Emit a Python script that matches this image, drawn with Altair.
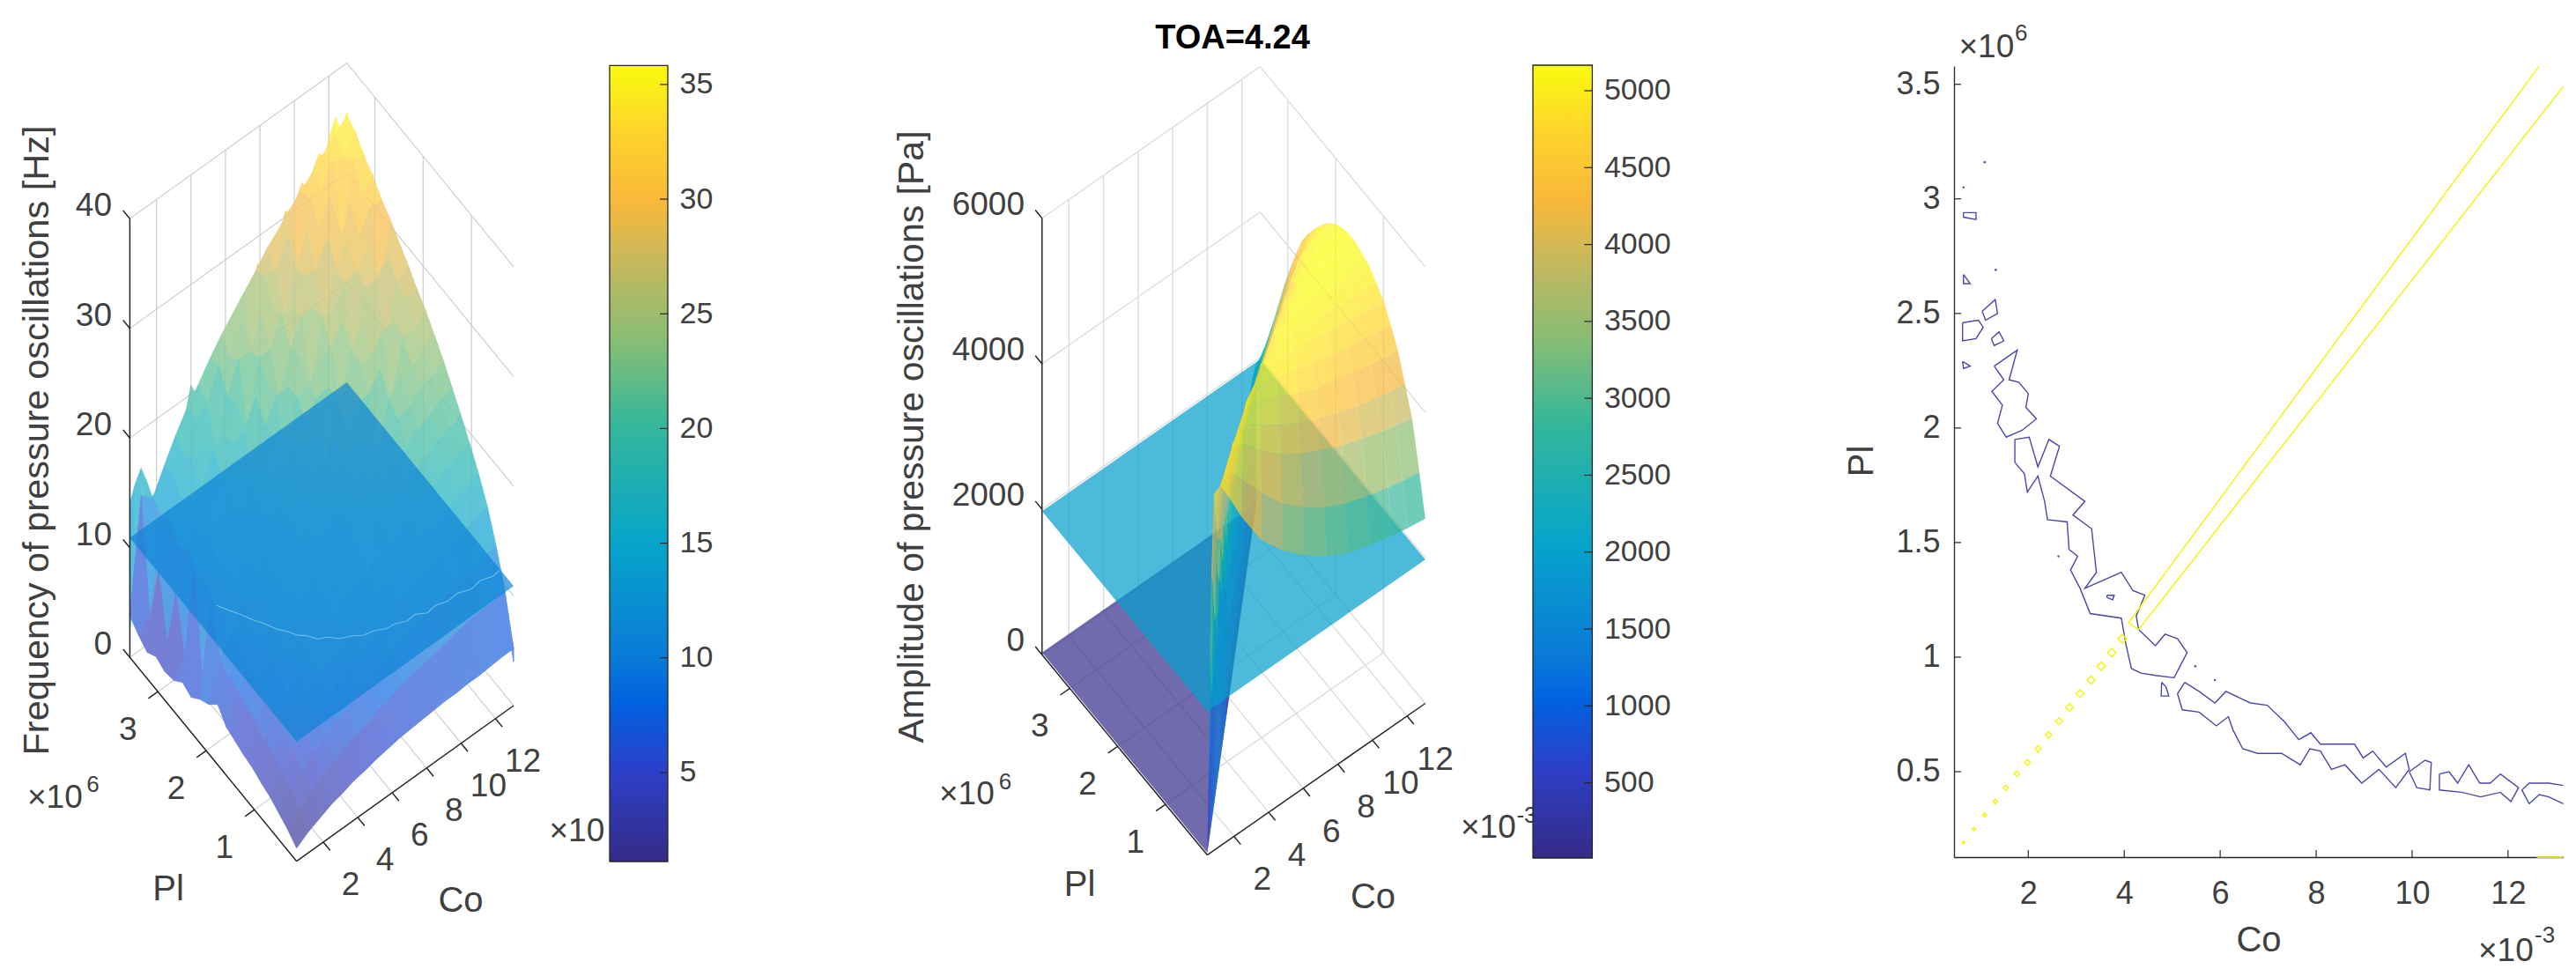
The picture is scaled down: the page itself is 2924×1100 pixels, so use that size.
import altair as alt
import numpy as np
import pandas as pd

FONT = "Liberation Sans"
INK = "#404040"
LINE = "#262626"
GRID = "#dddddd"

# ---------- shared axis ranges ----------
CO_MIN, CO_MAX = 0.45, 13.05
PL_MIN, PL_MAX = 0.127, 3.58
co_ticks = [2, 4, 6, 8, 10, 12]
pl_ticks = [1, 2, 3]

# ---------- parula-like colormap ----------
map_t = [0, 0.06, 0.112, 0.2, 0.25, 0.4, 0.55, 0.65, 0.75, 0.83, 0.92, 1]
map_c = ["#352a87", "#3036a8", "#2d3fc8", "#0062e0", "#0a78d8", "#06a5ca",
         "#35b79a", "#85bd75", "#c4b85e", "#f9b83a", "#fdd52a", "#f9fb0e"]

# ---------- left surface: frequency [Hz] ----------
freq_range = [1.12, 35.83]
freq_ticks = [5, 10, 15, 20, 25, 30, 35]
freq_plane = 10.9
freq_co = [0.45, 1.11, 1.78, 2.44, 3.1, 3.77, 4.43, 5.1, 5.76, 6.42, 7.09, 7.75, 8.41, 9.08, 9.74, 10.4, 11.06, 11.73, 12.39, 13.05]
freq_pl = [0.127, 0.31, 0.49, 0.67, 0.85, 1.04, 1.22, 1.40, 1.58, 1.76, 1.95, 2.13, 2.31, 2.49, 2.67, 2.86, 3.04, 3.22, 3.40, 3.58]
freq_z = [
 [1.2,1.9,2.4,2.9,3.2,3.6,3.8,4.1,4.3,4.5,4.6,4.7,4.8,4.9,4.9,5.0,5.0,5.1,5.2,5.2],
 [1.9,3.0,3.9,4.5,5.1,5.5,6.1,6.4,6.9,7.2,7.6,7.9,8.1,8.4,8.6,8.9,9.1,9.2,9.3,9.5],
 [2.4,3.9,4.8,5.8,6.3,7.1,7.6,8.3,8.6,9.3,9.6,10.1,10.4,11,11.1,11.6,12,12.1,12.5,12.6],
 [2.9,4.4,5.6,6.8,7.4,8.3,8.9,9.8,10.2,10.8,11.2,12,12.3,12.9,13.2,13.6,14.2,14.4,15,15.2],
 [3.2,5.1,6.3,7.5,8.6,9.2,10.2,10.8,11.6,12.1,12.9,13.2,14,14.3,15.1,15.4,16,16.4,16.8,17.2],
 [3.6,5.5,7.2,8.2,9.4,10.2,11.2,12,12.6,13.5,14,14.8,15.3,16,16.4,17.2,17.5,18.2,18.6,19],
 [3.8,6.1,7.5,9,10,11.3,12,13.1,13.6,14.7,15.1,16,16.6,17.4,17.7,18.6,19,19.8,20.1,20.6],
 [4.1,6.5,8.3,9.4,10.9,11.8,13,13.7,14.9,12,16.5,17,18,18.4,19.3,19.7,20.6,21,21.8,22.1],
 [4.4,7,8.5,10.4,11.3,12.9,13.6,14.9,15.5,16.7,17.2,18.4,18.8,19.9,20.2,21.3,21.6,22.6,22.9,23.6],
 [5.5,7.2,9.4,10.5,12.4,13.1,14.7,15.3,16.8,17.2,18.6,19,20.2,20.5,17.8,22,23.2,23.4,24.6,24.9],
 [4.5,8,9.4,11.6,12.5,14.3,11,16.6,17.1,18.6,19,20.4,20.7,22.2,22.3,23.8,19.8,25.3,25.2,26.2],
 [4,12,10.4,11.5,13.6,14.4,16.2,16.9,18.6,18.9,20.5,16.8,22.3,22.5,24.1,24.1,25.6,25.7,27,27.2],
 [3.2,4,10.2,12.6,13.5,11.8,16.2,18,18.6,20.3,20.7,22.3,22.5,20,24.4,25.8,26.2,23.4,27.5,28.4],
 [3.6,13,11.4,12.4,14.8,15.6,17.5,18.2,20,16.4,22.2,22.4,24.1,24.3,26,22,27.7,27.6,29,29.4],
 [2.8,4,11,13.6,14.6,17,17.4,15.6,20,22,22.1,24,20,26.1,26.1,27.8,28.1,29.5,25.5,30.5],
 [2.6,9,12.2,13.2,12,16.6,19,19.4,21.6,21.9,20,23.9,26,26,24,27.9,29.9,29.5,31.5,31.4],
 [3,3.5,11.6,14.6,15.5,18.1,18.6,21,17.4,23.6,23.5,25.9,25.8,28,27.8,30,25.8,31.6,31.4,32.6],
 [2.4,9,12.8,14,17,17.6,16.4,20.5,23.1,23,25.6,25.4,24,27.6,30.1,29.6,32,27.5,33.8,33.4],
 [3,4,12.4,15.5,16.4,19.2,19.6,22.4,22.3,25,20.8,27.5,27.3,29.7,25.8,31.6,31.4,33.5,33.2,34.6],
 [3.8,14,13,15.2,17.2,19,20.4,22,23.4,24.6,25.8,27,28.3,29.3,30.4,31.3,32.3,33.3,34.2,35.2],
]
# jagged outline of the surface along its two back edges
edge_left_co = [0.45,0.77,1.10,1.42,1.74,2.07,2.39,2.71,3.03,3.36,3.68,4.00,4.33,4.65,4.97,5.30,5.62,5.94,6.26,6.59,6.91,7.23,7.56,7.88,8.20,8.53,8.85,9.17,9.49,9.82,10.14,10.46,10.79,11.11,11.43,11.76,12.08,12.40,12.72,13.05]
edge_left_z = [14,15.5,16.5,15,13.2,13.5,14.5,15.5,16.8,17.5,18.5,20.8,19.5,20.5,21.5,22,21.5,23.5,24,24.5,25.5,25,26,27.5,26.5,28,28.5,29,30.5,30,31,32,31,32.5,33.5,33,34.5,35.8,34,35.5]
edge_right_pl = [3.58,3.49,3.40,3.31,3.23,3.14,3.05,2.96,2.87,2.78,2.70,2.61,2.52,2.43,2.34,2.25,2.17,2.08,1.99,1.90,1.81,1.72,1.64,1.55,1.46,1.37,1.28,1.19,1.11,1.02,0.93,0.84,0.75,0.66,0.57,0.48,0.39,0.30,0.22,0.127]
edge_right_z = [35.5,34,34.8,33,33.6,32,32.8,31,31.5,30.5,29.8,30,28.7,28,28.5,27.2,26.8,26,25.8,25,25,24,23.6,23,22.5,21.5,21,20,19.2,18.6,17.5,16.2,15,13.6,11.6,10.6,9,7.8,6.5,5.2]
# where the surface crosses the plane
cross_co = [1.6,1.9,2.2,2.5,2.8,3.1,3.4,3.7,4.0,4.3,4.7,5.1,5.6,6.1,6.6,7.1,7.6,8.1,8.6,9.1,9.6,10.2,10.8,11.4,12.0,12.6,13.0]
cross_pl = [2.2,2.05,1.92,1.76,1.64,1.48,1.38,1.25,1.18,1.06,1.01,0.90,0.84,0.75,0.72,0.65,0.63,0.57,0.58,0.50,0.52,0.47,0.48,0.42,0.44,0.39,0.40]

# ---------- middle surface: amplitude [Pa] ----------
amp_range = [11, 5166]
amp_ticks = [500, 1000, 1500, 2000, 2500, 3000, 3500, 4000, 4500, 5000]
amp_plane = 1975
amp_ratio = 3.58  # Co (x10^-3) per Pl (x10^6) along the sharp front
amp_floor = 30
amp_pl = [0.127, 0.25, 0.4, 0.55, 0.7, 0.85, 1.0, 1.15, 1.3, 1.45, 1.6, 1.8, 2.0, 2.2, 2.4, 2.6, 2.8, 3.0, 3.2, 3.4, 3.58]
amp_f = [0, .004, .008, .012, .018, .03, .06, .1, .16, .25, .35, .45, .55, .65, .75, .85, .92, 1]
amp_z = [
 [20,800,1800,2800,3800,4900,4950,4700,4300,3800,3450,3180,2960,2800,2700,2620,2575,2540],
 [20,1300,2700,2000,3500,4400,4850,4880,4650,4300,3950,3700,3500,3350,3250,3170,3120,3080],
 [20,2400,1700,3300,2800,3900,4700,5000,4950,4700,4450,4270,4130,4000,3900,3810,3760,3700],
 [20,1900,3200,2600,3500,3700,4450,4880,5020,4870,4680,4530,4400,4300,4210,4140,4090,4050],
 [20,2900,2100,3400,2900,3500,4200,4700,5050,5000,4900,4770,4650,4600,4530,4470,4430,4400],
 [20,2200,3300,2700,3400,3400,4000,4500,4900,5030,5000,4920,4850,4780,4730,4690,4660,4630],
 [20,3000,2300,3300,2800,3300,3800,4300,4750,5050,5070,5030,4980,4950,4920,4880,4860,4840],
 [20,2000,3100,2600,3200,3200,3650,4100,4520,4900,5070,5090,5060,5030,5010,4990,4980,4970],
 [20,2600,1900,3000,2600,3100,3500,3900,4300,4750,5050,5130,5150,5130,5110,5100,5090,5080],
 [20,1700,2700,2200,2900,3000,3350,3750,4120,4550,4880,5080,5160,5170,5160,5150,5140,5130],
 [20,500,1200,1900,2400,2900,3200,3600,3950,4350,4700,4960,5110,5200,5200,5200,5190,5180],
 [20,500,1130,1770,2270,2770,3070,3400,3700,4070,4420,4720,4970,5130,5190,5200,5190,5170],
 [20,480,1060,1670,2170,2630,2900,3200,3480,3820,4160,4480,4730,4950,5090,5130,5110,5100],
 [20,450,1000,1600,2100,2500,2700,2950,3200,3500,3800,4100,4400,4650,4850,4960,4960,4950],
 [20,420,930,1530,2030,2430,2600,2780,2950,3200,3480,3730,3980,4230,4440,4600,4680,4730],
 [20,400,900,1470,1970,2370,2500,2620,2750,2970,3200,3460,3700,3940,4160,4330,4430,4470],
 [20,400,900,1400,1900,2300,2400,2450,2550,2700,2900,3070,3270,3450,3650,3850,3980,4100],
 [20,350,800,1300,1800,2250,2300,2350,2400,2500,2600,2730,2880,3000,3200,3400,3500,3600],
 [20,300,700,1200,1700,2200,2250,2250,2300,2350,2400,2500,2600,2650,2750,2870,2930,3000],
 [20,300,600,1000,1500,2000,2100,2150,2150,2200,2200,2230,2260,2300,2330,2370,2390,2400],
 [20,200,500,800,1100,1400,1500,1550,1600,1650,1700,1710,1730,1750,1770,1790,1795,1800],
]

# ---------- right panel: contours ----------
contours = [
 ([1.29,1.77,1.60,1.80,2.00,1.95,2.17,1.87,1.54,1.36,1.46,1.24,1.49,1.29],
  [2.27,2.34,2.21,2.20,2.15,2.09,2.04,1.99,1.96,2.02,2.10,2.16,2.21,2.27]),
 ([1.72,2.02,2.20,2.43,2.65,2.46,3.18,2.93,3.32,3.42,3.18,3.94,4.18,4.43,4.25,4.30,4.65,4.85,5.11,5.31,5.04,4.65,4.35,4.15,4.04,3.94,3.29,3.08,2.88,3.03,2.85,2.81,2.40,2.34,2.20,1.98,1.92,1.72,1.72],
  [1.95,1.96,1.83,1.95,1.92,1.79,1.68,1.62,1.56,1.37,1.30,1.37,1.29,1.27,1.18,1.12,1.05,1.10,1.08,1.02,0.91,0.92,0.93,0.95,1.05,1.17,1.19,1.30,1.38,1.44,1.47,1.59,1.60,1.68,1.79,1.72,1.80,1.85,1.95]),
 ([5.26,5.56,5.89,6.12,6.63,6.98,7.33,7.64,7.89,8.09,8.80,8.98,9.18,9.46,9.86,9.94,9.66,9.31,8.95,8.60,8.32,8.09,7.87,7.67,7.28,6.78,6.47,6.27,6.17,5.92,5.56,5.21,5.11,5.26],
  [0.89,0.85,0.80,0.85,0.80,0.79,0.72,0.64,0.67,0.62,0.62,0.56,0.59,0.52,0.58,0.51,0.43,0.51,0.45,0.53,0.51,0.59,0.60,0.53,0.58,0.58,0.60,0.68,0.74,0.70,0.76,0.77,0.84,0.89]),
 ([9.94,10.27,10.40,10.37,10.10,9.94], [0.50,0.55,0.54,0.42,0.43,0.50]),
 ([10.57,10.77,10.95,11.18,11.41,11.63,11.84,12.22,12.06,11.84,11.43,11.03,10.57,10.57],
  [0.49,0.50,0.45,0.53,0.45,0.45,0.49,0.43,0.37,0.41,0.39,0.41,0.42,0.49]),
 ([13.15,12.85,12.44,12.29,12.44,12.65,12.85,13.15], [0.44,0.45,0.45,0.42,0.36,0.40,0.39,0.36]),
 ([0.63,0.96,1.06,0.91,0.63,0.63], [2.46,2.47,2.44,2.39,2.38,2.46]),
 ([1.04,1.31,1.36,1.11,1.04], [2.51,2.56,2.50,2.47,2.51]),
 ([1.23,1.39,1.49,1.29,1.23], [2.39,2.42,2.38,2.36,2.39]),
 ([0.65,0.91,0.91,0.65,0.65], [2.94,2.94,2.91,2.92,2.94]),
 ([0.65,0.79,0.65,0.65], [2.67,2.63,2.63,2.67]),
 ([0.63,0.79,0.65,0.63], [2.29,2.27,2.26,2.29]),
 ([3.64,3.79,3.76,3.64,3.64], [1.27,1.27,1.25,1.26,1.27]),
 ([4.78,4.87,4.93,4.77,4.78], [0.89,0.87,0.83,0.83,0.89]),
]
dots_co = [1.09, 2.63, 5.48, 5.89, 1.32, 0.65]
dots_pl = [3.16, 1.44, 0.96, 0.90, 2.69, 3.05]
front_co = [12.65, 4.09, 4.30, 13.15]
front_pl = [3.58, 1.15, 1.12, 3.49]
rings_co = [3.96,3.74,3.52,3.31,3.08,2.86,2.64,2.42,2.20,1.98,1.76,1.53,1.31,1.09,0.87,0.65]
rings_pl = [1.08,1.02,0.96,0.90,0.84,0.78,0.72,0.66,0.60,0.54,0.49,0.43,0.37,0.31,0.25,0.19]
base_co = [12.6, 13.15]
base_pl = [0.127, 0.127]


# ---------- helpers ----------
def hex2rgb(h):
    return np.array([int(h[i:i + 2], 16) for i in (1, 3, 5)], float)


def over_white(h, a):
    c = a * hex2rgb(h) + (1 - a) * 255
    return "#%02x%02x%02x" % tuple(int(round(v)) for v in c)


def map_at(t):
    cols = np.array([hex2rgb(c) for c in map_c])
    c = [np.interp(t, map_t, cols[:, k]) for k in range(3)]
    return "#%02x%02x%02x" % tuple(int(round(v)) for v in c)


def projector(B, R, L, zs, origin):
    def f(co, pl, z):
        a = (co - CO_MIN) / (CO_MAX - CO_MIN)
        b = (pl - PL_MIN) / (PL_MAX - PL_MIN)
        return (B[0] + a * (R[0] - B[0]) + b * (L[0] - B[0]) - origin[0],
                B[1] + a * (R[1] - B[1]) + b * (L[1] - B[1]) - z * zs - origin[1])
    return f


def feature(proj, pts, v):
    ring = [list(map(float, proj(*p))) for p in pts]
    ring.append(ring[0])
    return {"type": "Feature", "properties": {"v": float(v)},
            "geometry": {"type": "Polygon", "coordinates": [ring]}}


def xy_scales(w, h):
    return alt.Scale(domain=[0, w], range=[0, w]), alt.Scale(domain=[0, h], range=[0, h])


PROJ = dict(type="identity", scale=1, translate=[0, 0])


def rules(rows, sx, sy, color, width, opacity=1.0):
    df = pd.DataFrame(rows, columns=["x", "y", "x2", "y2"])
    return alt.Chart(df).mark_rule(color=color, strokeWidth=width, opacity=opacity).encode(
        x=alt.X("x:Q", scale=sx, axis=None), y=alt.Y("y:Q", scale=sy, axis=None),
        x2="x2:Q", y2="y2:Q")


def texts(rows, sx, sy, size, align="center", angle=0, bold=False, color=INK):
    df = pd.DataFrame(rows, columns=["x", "y", "t"])
    return alt.Chart(df).mark_text(font=FONT, fontSize=size, align=align, baseline="middle",
                                   angle=angle, color=color,
                                   fontWeight="bold" if bold else "normal").encode(
        x=alt.X("x:Q", scale=sx, axis=None), y=alt.Y("y:Q", scale=sy, axis=None), text="t:N")


def box_lines(proj, z_ticks, z_top):
    g = []
    for c in co_ticks:
        g.append(proj(c, PL_MAX, 0) + proj(c, PL_MAX, z_top))
        g.append(proj(c, PL_MIN, 0) + proj(c, PL_MAX, 0))
    for p in pl_ticks:
        g.append(proj(CO_MAX, p, 0) + proj(CO_MAX, p, z_top))
        g.append(proj(CO_MIN, p, 0) + proj(CO_MAX, p, 0))
    for z in z_ticks:
        g.append(proj(CO_MIN, PL_MAX, z) + proj(CO_MAX, PL_MAX, z))
        g.append(proj(CO_MAX, PL_MAX, z) + proj(CO_MAX, PL_MIN, z))
    return g


def axis_lines(proj, z_ticks, z_top):
    a = [proj(CO_MIN, PL_MAX, 0) + proj(CO_MIN, PL_MAX, z_top),
         proj(CO_MIN, PL_MAX, 0) + proj(CO_MIN, PL_MIN, 0),
         proj(CO_MIN, PL_MIN, 0) + proj(CO_MAX, PL_MIN, 0)]
    for c in co_ticks:
        a.append(proj(c, PL_MIN, 0) + proj(c, PL_MIN - 0.14, 0))
    for p in pl_ticks:
        a.append(proj(CO_MIN, p, 0) + proj(CO_MIN - 0.55, p, 0))
    for z in z_ticks:
        a.append(proj(CO_MIN, PL_MAX, z) + proj(CO_MIN, PL_MAX + 0.14, z))
    return a


def colorbar(dom, ticks, top, bottom, w):
    stops = [alt.GradientStop(color=c, offset=t) for t, c in zip(map_t, map_c)]
    grad = alt.LinearGradient(gradient="linear", stops=stops, x1=0, x2=0, y1=1, y2=0)
    sc = alt.Scale(domain=dom, range=[bottom, top], nice=False, zero=False)
    ax = alt.Axis(orient="right", values=ticks, title=None, domain=False, grid=False, tickSize=0,
                  labelFont=FONT, labelFontSize=34, labelColor=INK, labelPadding=13, format="d")
    rect = alt.Chart(pd.DataFrame({"a": [dom[0]], "b": [dom[1]]})).mark_rect(
        fill=grad, stroke=LINE, strokeWidth=1.3).encode(
        x=alt.value(0), x2=alt.value(w), y=alt.Y("a:Q", scale=sc, axis=ax), y2="b:Q")
    tk = alt.Chart(pd.DataFrame({"v": ticks})).mark_rule(color=LINE, strokeWidth=1.2).encode(
        x=alt.value(w - 9), x2=alt.value(w), y=alt.Y("v:Q", scale=sc, axis=ax))
    return alt.layer(rect, tk).properties(width=w, height=bottom)


# ---------- left panel ----------
W1, H1 = 684, 1084
O1 = (8, 8)
p1 = projector((336.7, 974.7), (583, 798), (147.4, 743.3), 12.45, O1)
sx1, sy1 = xy_scales(W1, H1)
fz = freq_z
cells = []
for j in range(len(freq_pl) - 2, -1, -1):
    for i in range(len(freq_co) - 2, -1, -1):
        pts = [(freq_co[i], freq_pl[j], fz[j][i]), (freq_co[i + 1], freq_pl[j], fz[j][i + 1]),
               (freq_co[i + 1], freq_pl[j + 1], fz[j + 1][i + 1]), (freq_co[i], freq_pl[j + 1], fz[j + 1][i])]
        v = (fz[j][i] + fz[j][i + 1] + fz[j + 1][i + 1] + fz[j + 1][i]) / 4
        cells.append((i + j, feature(p1, pts, v)))
cells.sort(key=lambda c: -c[0])
strip = []
row_top = np.array(fz[-1], float)
col_end = np.array([r[-1] for r in fz], float)
for k in range(len(edge_left_co) - 1):
    c0, c1 = edge_left_co[k], edge_left_co[k + 1]
    strip.append(feature(p1, [(c0, PL_MAX, edge_left_z[k]), (c1, PL_MAX, edge_left_z[k + 1]),
                              (c1, PL_MAX, np.interp(c1, freq_co, row_top) - 1.2),
                              (c0, PL_MAX, np.interp(c0, freq_co, row_top) - 1.2)], edge_left_z[k]))
for k in range(len(edge_right_pl) - 1):
    q0, q1 = edge_right_pl[k], edge_right_pl[k + 1]
    strip.append(feature(p1, [(CO_MAX, q0, edge_right_z[k]), (CO_MAX, q1, edge_right_z[k + 1]),
                              (CO_MAX, q1, np.interp(q1, freq_pl, col_end) - 1.2),
                              (CO_MAX, q0, np.interp(q0, freq_pl, col_end) - 1.2)], edge_right_z[k]))
surf1 = strip + [c[1] for c in cells]
dom1 = [freq_range[0] + t * (freq_range[1] - freq_range[0]) for t in map_t]
pale1 = [over_white(c, 0.66) for c in map_c]
sc1 = alt.Scale(domain=dom1, range=pale1)
surf_layer1 = alt.Chart(alt.Data(values=surf1)).mark_geoshape(filled=True, strokeWidth=0.9).encode(
    fill=alt.Fill("properties.v:Q", scale=sc1, legend=None),
    stroke=alt.Stroke("properties.v:Q", scale=sc1, legend=None)).project(**PROJ)
corners = [(CO_MIN, PL_MIN), (CO_MAX, PL_MIN), (CO_MAX, PL_MAX), (CO_MIN, PL_MAX)]
plane1 = alt.Chart(alt.Data(values=[feature(p1, [(c, q, freq_plane) for c, q in corners], freq_plane)])).mark_geoshape(
    fill=map_at((freq_plane - freq_range[0]) / (freq_range[1] - freq_range[0])), fillOpacity=0.67, strokeWidth=0).project(**PROJ)
cx = [p1(c, q, freq_plane) for c, q in zip(cross_co, cross_pl)]
cross_df = pd.DataFrame({"x": [a for a, _ in cx], "y": [b for _, b in cx], "i": range(len(cx))})
cross = alt.Chart(cross_df).mark_line(color="#78c3ea", strokeWidth=1.1, opacity=0.9).encode(
    x=alt.X("x:Q", scale=sx1, axis=None), y=alt.Y("y:Q", scale=sy1, axis=None), order="i:Q")
zt1 = [0, 10, 20, 30, 40]
g1 = box_lines(p1, zt1, 40)
lab1 = [(p1(c, PL_MIN, 0)[0] + 31, p1(c, PL_MIN, 0)[1] + 49, str(c)) for c in co_ticks]
lab1 += [(p1(CO_MIN, q, 0)[0] - 34, p1(CO_MIN, q, 0)[1] + 44, str(q)) for q in pl_ticks]
panel1 = alt.layer(
    rules(g1, sx1, sy1, GRID, 1.4),
    surf_layer1,
    rules(g1, sx1, sy1, "#8a8a8a", 1, 0.14),
    plane1,
    cross,
    rules(axis_lines(p1, zt1, 40), sx1, sy1, LINE, 1.5),
    texts(lab1, sx1, sy1, 37),
    texts([(523 - O1[0], 1020 - O1[1], "Co"), (191 - O1[0], 1007 - O1[1], "Pl")], sx1, sy1, 40),
    texts([(127 - O1[0], p1(CO_MIN, PL_MAX, z)[1] - 14, str(z)) for z in zt1], sx1, sy1, 37, align="right"),
    texts([(43 - O1[0], 497 - O1[1], "Frequency of pressure oscillations [Hz]")], sx1, sy1, 41.5, angle=270),
    texts([(31 - O1[0], 903 - O1[1], "\u00d710")], sx1, sy1, 37, align="left"),
    texts([(105.6 - O1[0], 888 - O1[1], "6")], sx1, sy1, 26),
    texts([(623.5 - O1[0], 941 - O1[1], "\u00d710")], sx1, sy1, 37, align="left"),
).properties(width=W1, height=H1)

# ---------- middle panel ----------
X2 = 758
W2, H2 = 981.6, 1084
O2 = (X2, 8)
p2 = projector((1370.3, 967.6), (1617.8, 795.5), (1182.8, 740.3), 0.0826, O2)
sx2, sy2 = xy_scales(W2, H2)
dom2 = [amp_range[0] + t * (amp_range[1] - amp_range[0]) for t in map_t]
sc2 = alt.Scale(domain=dom2, range=map_c)
below, above = [], []
for j in range(len(amp_pl) - 2, -1, -1):
    q0, q1 = amp_pl[j], amp_pl[j + 1]
    d0, d1 = amp_ratio * q0, amp_ratio * q1
    for i in range(len(amp_f) - 1):
        f0, f1 = amp_f[i], amp_f[i + 1]
        pts = [(d0 + f0 * (CO_MAX - d0), q0, amp_z[j][i]), (d0 + f1 * (CO_MAX - d0), q0, amp_z[j][i + 1]),
               (d1 + f1 * (CO_MAX - d1), q1, amp_z[j + 1][i + 1]), (d1 + f0 * (CO_MAX - d1), q1, amp_z[j + 1][i])]
        v = (amp_z[j][i] + amp_z[j][i + 1] + amp_z[j + 1][i + 1] + amp_z[j + 1][i]) / 4
        (below if v < amp_plane else above).append(feature(p2, pts, v))
floor_poly = feature(p2, [(CO_MIN, PL_MIN, amp_floor), (CO_MIN, PL_MAX, amp_floor),
                          (amp_ratio * PL_MAX, PL_MAX, amp_floor)], amp_floor)


def amp_layer(feats):
    return alt.Chart(alt.Data(values=feats)).mark_geoshape(fillOpacity=0.7, strokeWidth=0, filled=True).encode(
        fill=alt.Fill("properties.v:Q", scale=sc2, legend=None)).project(**PROJ)


plane2 = alt.Chart(alt.Data(values=[feature(p2, [(c, q, amp_plane) for c, q in corners], amp_plane)])).mark_geoshape(
    fill=map_at((amp_plane - amp_range[0]) / (amp_range[1] - amp_range[0])), fillOpacity=0.72, strokeWidth=0).project(**PROJ)
zt2 = [0, 2000, 4000, 6000]
lab2 = [(p2(c, PL_MIN, 0)[0] + 32, p2(c, PL_MIN, 0)[1] + 50, str(c)) for c in co_ticks]
lab2 += [(p2(CO_MIN, q, 0)[0] - 34, p2(CO_MIN, q, 0)[1] + 44, str(q)) for q in pl_ticks]
panel2 = alt.layer(
    rules(box_lines(p2, zt2, 6000), sx2, sy2, GRID, 1.4),
    amp_layer([floor_poly] + below),
    plane2,
    amp_layer(above),
    rules(axis_lines(p2, zt2, 6000), sx2, sy2, LINE, 1.5),
    texts(lab2, sx2, sy2, 37),
    texts([(1558.5 - O2[0], 1016 - O2[1], "Co"), (1225.5 - O2[0], 1002 - O2[1], "Pl")], sx2, sy2, 40),
    texts([(1163 - O2[0], p2(CO_MIN, PL_MAX, z)[1] - 15, str(z)) for z in zt2], sx2, sy2, 37, align="right"),
    texts([(1036 - O2[0], 493 - O2[1], "Amplitude of pressure oscillations [Pa]")], sx2, sy2, 41, angle=270),
    texts([(1399 - O2[0], 41 - O2[1], "TOA=4.24")], sx2, sy2, 38, bold=True, color="#000000"),
    texts([(1066 - O2[0], 899 - O2[1], "\u00d710")], sx2, sy2, 37, align="left"),
    texts([(1141 - O2[0], 885 - O2[1], "6")], sx2, sy2, 26),
    texts([(1658 - O2[0], 937 - O2[1], "\u00d710")], sx2, sy2, 37, align="left"),
    texts([(1733 - O2[0], 923 - O2[1], "-3")], sx2, sy2, 26),
).properties(width=W2, height=H2)

# ---------- colorbars ----------
cbar1 = colorbar(freq_range, freq_ticks, 63.3, 967, 66)
cbar2 = colorbar(amp_range, amp_ticks, 63, 963, 67.4)

# ---------- spacer ----------
spacer = alt.Chart(pd.DataFrame({"a": [0]})).mark_point(opacity=0).encode(
    x=alt.value(0), y=alt.value(0)).properties(width=2217 - 1807, height=10)

# ---------- right panel ----------
W3, H3 = 691.5, 962
sx3 = alt.Scale(domain=[0.452, 13.15], nice=False, zero=False)
sy3 = alt.Scale(domain=[PL_MIN, PL_MAX], range=[H3, 63.9], nice=False, zero=False)
x_axis = alt.Axis(values=co_ticks, grid=False, tickSize=0, labelFont=FONT, labelFontSize=36, labelColor=INK,
                  labelPadding=24, domainColor=LINE, domainWidth=1.3, title="Co", titleFont=FONT, titleFontSize=40,
                  titleFontWeight="normal", titleColor=INK, titleX=345.5, titleY=94, titleBaseline="middle", format="d")
y_axis = alt.Axis(values=[0.5, 1, 1.5, 2, 2.5, 3, 3.5], grid=False, tickSize=0, labelFont=FONT, labelFontSize=36,
                  labelColor=INK, labelPadding=16, domainColor=LINE, domainWidth=1.3, title="Pl", titleFont=FONT,
                  titleFontSize=40, titleFontWeight="normal", titleColor=INK, titleX=-105, titleY=512,
                  titleBaseline="middle", titleAngle=270, titleAlign="center", format="~g")
X3 = alt.X("co:Q", scale=sx3, axis=x_axis)
Y3 = alt.Y("pl:Q", scale=sy3, axis=y_axis)
rows = []
for n, (cs, ps) in enumerate(contours):
    for k, (c, q) in enumerate(zip(cs, ps)):
        rows.append({"co": c, "pl": q, "loop": n, "k": k})
cont = alt.Chart(pd.DataFrame(rows)).mark_line(color="#4a48a6", strokeWidth=1.4).encode(
    x=X3, y=Y3, detail="loop:N", order="k:Q")
dots = alt.Chart(pd.DataFrame({"co": dots_co, "pl": dots_pl})).mark_point(
    filled=True, color="#4a48a6", size=7, opacity=0.9).encode(x=X3, y=Y3)
front = alt.Chart(pd.DataFrame({"co": front_co, "pl": front_pl, "k": range(len(front_co))})).mark_line(
    color="#f4f420", strokeWidth=1.6).encode(x=X3, y=Y3, order="k:Q")
rings = alt.Chart(pd.DataFrame({"co": rings_co, "pl": rings_pl})).mark_point(
    shape="diamond", filled=False, color="#f4f420", strokeWidth=1.6, opacity=1).encode(
    x=X3, y=Y3, size=alt.Size("co:Q", scale=alt.Scale(domain=[0.65, 3.96], range=[8, 100]), legend=None))
base = alt.Chart(pd.DataFrame({"co": base_co, "pl": base_pl, "k": [0, 1]})).mark_line(
    color="#d8d820", strokeWidth=2).encode(x=X3, y=Y3, order="k:Q")
xt = alt.Chart(pd.DataFrame({"co": co_ticks})).mark_rule(color=LINE, strokeWidth=1.2).encode(
    x=X3, y=alt.value(H3), y2=alt.value(H3 - 8))
yt = alt.Chart(pd.DataFrame({"pl": [0.5, 1, 1.5, 2, 2.5, 3, 3.5]})).mark_rule(color=LINE, strokeWidth=1.2).encode(
    y=Y3, x=alt.value(0), x2=alt.value(8))


def note(text, x, y, size):
    return alt.Chart(pd.DataFrame({"t": [text]})).mark_text(
        font=FONT, fontSize=size, align="left", baseline="middle", color=INK).encode(
        x=alt.value(x), y=alt.value(y), text="t:N")


panel3 = alt.layer(
    cont, dots, front, rings, base, xt, yt,
    note("\u00d710", 2222.5 - 2217, 51 - 8, 37),
    note("6", 2286 - 2217, 35 - 8, 26),
    note("\u00d710", 2812 - 2217, 1077 - 8, 37),
    note("-3", 2876 - 2217, 1059 - 8, 26),
).properties(width=W3, height=H3)

chart = alt.hconcat(panel1, cbar1, panel2, cbar2, spacer, panel3, spacing=0, bounds="flush").resolve_scale(
    fill="independent", stroke="independent", color="independent", size="independent").properties(
    padding=0).configure_view(stroke=None)

chart.save("out.html", embed_options={"renderer": "svg", "actions": False})
